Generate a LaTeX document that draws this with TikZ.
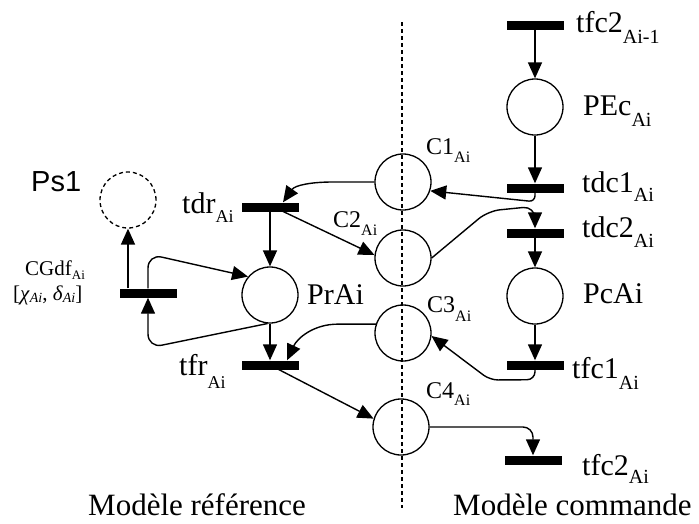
\documentclass[tikz,border=0pt]{standalone}
\usepackage{fontspec}
\setmainfont{Liberation Serif}
\newfontfamily\arialf{Liberation Sans}
\usetikzlibrary{arrows.meta,calc}
\newcommand\sbx[3]{\raisebox{-#1pt}{\fontsize{#2}{#2}\selectfont #3}}
\begin{document}
\begin{tikzpicture}[x=1pt,y=1pt,
  place/.style={circle,draw,line width=1.3pt,minimum size=56pt,inner sep=0pt},
  trans/.style={rectangle,fill=black,minimum width=57pt,minimum height=9pt,inner sep=0pt},
  arr/.style={line width=1.4pt,-{Triangle[length=16pt,width=14pt]}},
  lab/.style={anchor=base west,inner sep=0pt,font=\fontsize{30}{30}\selectfont},
  labc/.style={anchor=base west,inner sep=0pt,font=\fontsize{24}{24}\selectfont},
  labs/.style={anchor=base west,inner sep=0pt,font=\fontsize{21}{21}\selectfont},
  labb/.style={anchor=base west,inner sep=0pt,font=\fontsize{31}{31}\selectfont},
  divider/.style={line width=1.2pt,dash pattern=on 4pt off 3pt}
]
\useasboundingbox (0,0) rectangle (699,-523);
% divider
\coordinate (dtop) at (402,-22);
\coordinate (dbot) at (402,-508);
\draw[divider] (dtop) -- (dbot);
% places
\node[place] (PEc) at (535,-107) {};
\node[place] (PcAi) at (535,-296) {};
\node[place] (C1) at (403,-182) {};
\node[place] (C2) at (403,-258) {};
\node[place] (C3) at (403,-333) {};
\node[place] (C4) at (401,-427) {};
\node[place] (PrAi) at (270,-295) {};
\node[place,dash pattern=on 4pt off 3pt] (Ps1) at (128,-200) {};
% transitions
\node[trans] (tfcA) at (535,-25) {};
\node[trans] (tdc1) at (535,-188) {};
\node[trans] (tdc2) at (535,-233) {};
\node[trans] (tfc1) at (535,-365) {};
\node[trans] (tfcB) at (533,-460) {};
\node[trans] (tdr) at (270,-207) {};
\node[trans] (tfr) at (270,-365) {};
\node[trans] (CGdf) at (148,-293) {};
% arcs
\draw[arr] (tfcA) -- (PEc);
\draw[arr] (PEc) -- (tdc1);
\draw[arr,rounded corners=6pt] (tdc1.south) -- ++(0,-9) -- (C1.-18);
\draw[arr,rounded corners=12pt] (C2.east) -- (488,-211) -- ($(tdc2.north)+(0,22)$) -- (tdc2.north);
\draw[arr] (tdc2) -- (PcAi);
\draw[arr] (PcAi) -- (tfc1);
\draw[arr,rounded corners=8pt] (tfc1.south) -- ++(0,-10) -- (490,-380) -- (C3.-6);
\draw[arr] (C3.162) -- ++(-38,0) to[out=180,in=65] ($(tfr.north)+(17,0)$);
\draw[arr] (PrAi) -- (tfr);
\draw[arr] (tfr.center) -- (C4.163);
\draw[arr,rounded corners=10pt] (C4.east) -| (tfcB.north);
\draw[arr] (C1.west) -- ++(-42,0) to[out=180,in=55] ($(tdr.north)+(13,0)$);
\draw[arr] ($(tdr.center)+(10,-3)$) -- (C2.174);
\draw[arr] (tdr) -- (PrAi);
\draw[arr] (Ps1.south |- CGdf.north) -- (Ps1.south);
\draw[arr,rounded corners=14pt] (PrAi.265) -- (148,-348) -- (CGdf.south);
\draw[arr,rounded corners=14pt] (CGdf.north) -- (148,-254) -- (PrAi.140);
% labels
\node[anchor=base west,inner sep=0pt,font=\fontsize{29}{29}\selectfont\arialf] (lPs1) at (31,-191) {Ps1};
\node[lab] (ltdr) at (182,-213) {tdr\sbx{9}{18}{Ai}};
\node[lab] (ltfr) at (179,-375) {tfr\sbx{13}{18}{Ai}};
\node[labs] (lCG) at (25,-275) {CGdf\sbx{4}{13}{Ai}};
\node[labs] (lCG2) at (13,-300) {[\textit{χ}\sbx{2}{14}{\textit{Ai}}, \textit{δ}\sbx{2}{14}{\textit{Ai}}]};
\node[lab] (lPrAi) at (307,-304) {PrAi};
\node[labc] (lC1) at (426,-154) {C1\sbx{8}{16}{Ai}};
\node[labc] (lC2) at (333,-227) {C2\sbx{8}{16}{Ai}};
\node[labc] (lC3) at (427,-312) {C3\sbx{9}{16}{Ai}};
\node[labc] (lC4) at (426,-398) {C4\sbx{7}{16}{Ai}};
\node[lab] (lPEc) at (583,-115) {PEc\sbx{11}{20}{Ai}};
\node[lab] (ltdc1) at (582,-192) {tdc1\sbx{9}{20}{Ai}};
\node[lab] (ltdc2) at (582,-237) {tdc2\sbx{10}{20}{Ai}};
\node[lab] (lPcAi) at (583,-303) {PcAi};
\node[lab] (ltfc1) at (572,-378) {tfc1\sbx{11}{20}{Ai}};
\node[lab] (ltfcB) at (582,-475) {tfc2\sbx{8}{20}{Ai}};
\node[lab] (ltfcA) at (576,-32) {tfc2\sbx{11}{20}{Ai-1}};
\node[labb] (lref) at (88,-515) {Modèle référence};
\node[labb] (lcom) at (453,-515) {Modèle commande};
\end{tikzpicture}
\end{document}
